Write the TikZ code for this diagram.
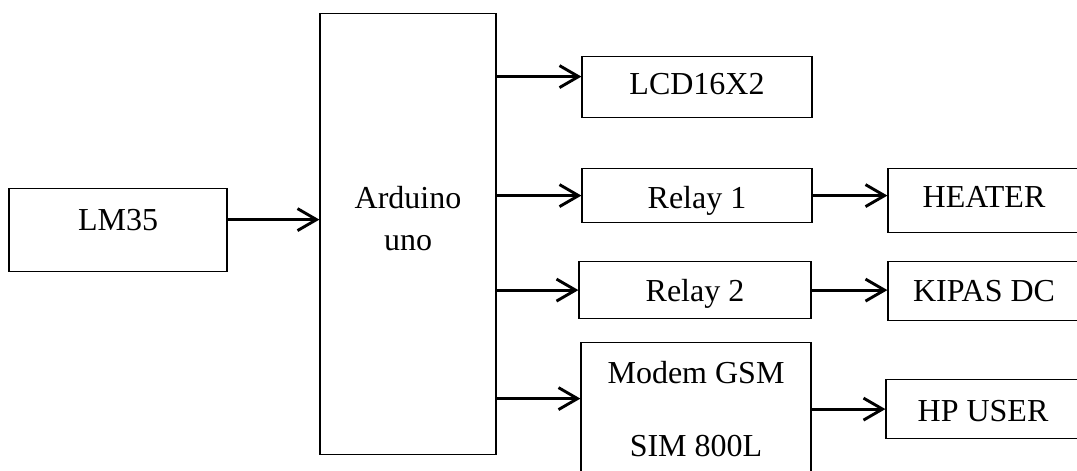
\documentclass[tikz,border=0pt]{standalone}
\usepackage{fontspec}
\setmainfont{Liberation Serif}
\usetikzlibrary{arrows.meta}

\begin{document}
\begin{tikzpicture}[x=1pt, y=-1pt, >={Straight Barb[length=19pt,width=22pt]}]
    \tikzstyle{BlockStyle}=[draw,
                            anchor      = north,
                            line width  = 1.2pt,
                            inner sep   = 0pt,
                            align       = center,
                            font        = \fontsize{32}{42}\selectfont]
    \tikzstyle{LinkStyle}=[->,
                           line width  = 2.9pt]
    \useasboundingbox (0,0) rectangle (1077,471);
    % input side
    \node[BlockStyle, minimum width=218pt, text height=42pt, text depth=41pt] (lm) at (118,188) {LM35};
    \node[BlockStyle, minimum width=176pt, text height=237pt, text depth=204pt] (ard) at (408,13) {Arduino\\uno};
    % outputs of the board
    \node[BlockStyle, minimum width=230pt, text height=38pt, text depth=23pt] (lcd) at (697,56) {LCD16X2};
    \node[BlockStyle, minimum width=230pt, text height=40pt, text depth=14pt] (ry1) at (697,168) {Relay 1};
    \node[BlockStyle, minimum width=232pt, text height=40pt, text depth=17pt] (ry2) at (695,261) {Relay 2};
    \node[BlockStyle, minimum width=230pt, minimum height=133pt,
          font=\fontsize{32}{73}\selectfont] (gsm) at (696,342) {Modem GSM\\SIM 800L};
    % loads
    \node[BlockStyle, minimum width=192pt, text height=39pt, text depth=25pt] (heater) at (984,168) {HEATER};
    \node[BlockStyle, minimum width=192pt, text height=40pt, text depth=19pt] (kipas) at (984,261) {KIPAS DC};
    \node[BlockStyle, minimum width=194pt, text height=42pt, text depth=17pt] (hp) at (983,379) {HP USER};
    % connections
    \coordinate (lmout) at ([yshift=10.5pt]lm.east);
    \coordinate (lcdin) at ([yshift=10.5pt]lcd.west);
    \coordinate (gsmin) at ([yshift=10.5pt]gsm.west);
    \draw[LinkStyle] (lmout) -- (ard.west |- lmout);
    \draw[LinkStyle] (ard.east |- lcdin) -- (lcdin);
    \draw[LinkStyle] (ard.east |- ry1.west) -- (ry1.west);
    \draw[LinkStyle] (ard.east |- ry2.west) -- (ry2.west);
    \draw[LinkStyle] (ard.east |- gsmin) -- (gsmin);
    \draw[LinkStyle] (ry1.east) -- (ry1.east -| heater.west);
    \draw[LinkStyle] (ry2.east) -- (ry2.east -| kipas.west);
    \draw[LinkStyle] (gsm.east) -- (gsm.east -| hp.west);
\end{tikzpicture}
\end{document}
